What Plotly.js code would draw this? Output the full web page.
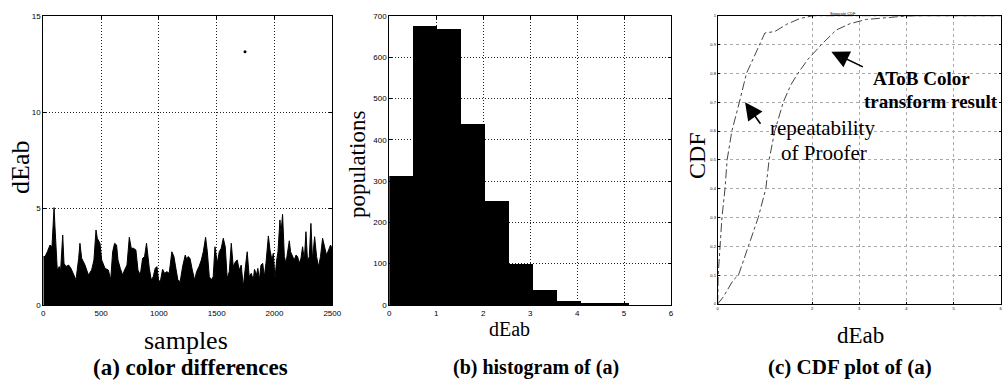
<!DOCTYPE html>
<html>
<head>
<meta charset="utf-8">
<script src="https://cdn.plot.ly/plotly-3.0.1.min.js"></script>
<style>html,body{margin:0;padding:0;background:#fff;}#chart{width:1007px;height:389px;}</style>
</head>
<body>
<div id="chart"></div>
<script>
// (a) color differences: sample index vs dEab (upper envelope)
const samplesA = [0,15,35,58,75,93,101,121,138,150,168,179,196,219,239,260,283,306,317,332,361,390,418,438,456,467,490,505,534,563,583,600,617,634,646,666,686,703,724,744,761,781,801,819,839,859,876,893,905,917,934,951,968,983,997,1012,1032,1049,1069,1089,1112,1130,1147,1164,1184,1205,1228,1242,1252,1269,1289,1309,1326,1347,1367,1384,1404,1419,1436,1453,1470,1485,1505,1522,1539,1557,1574,1591,1609,1626,1643,1663,1678,1695,1712,1730,1750,1764,1781,1799,1816,1827,1844,1856,1869,1883,1898,1912,1926,1947,1961,1978,1990,2004,2019,2030,2047,2056,2070,2085,2099,2117,2128,2139,2157,2171,2186,2200,2214,2229,2243,2258,2272,2286,2301,2315,2329,2347,2364,2381,2398,2416,2433,2450,2468,2485,2500];
const dEabA = [2.51,2.51,2.76,3.11,3.02,5.05,4.06,1.81,1.99,1.81,3.63,2.16,1.99,2.07,1.90,1.56,1.30,2.42,3.20,2.42,2.07,1.56,1.81,2.33,3.89,3.46,3.20,2.33,1.90,1.81,1.30,2.76,3.20,3.11,2.33,1.90,1.56,1.81,2.07,3.51,2.94,2.94,2.85,1.81,1.56,2.42,2.51,3.20,2.51,1.90,1.30,1.47,1.90,1.99,1.30,1.21,1.85,1.64,1.73,1.64,2.76,2.51,1.90,1.30,1.21,1.99,2.59,2.33,2.51,2.42,1.81,1.30,1.73,1.99,2.33,2.76,3.51,2.76,1.47,1.30,1.47,3.02,2.16,2.76,2.94,3.46,3.02,1.38,1.73,3.20,1.99,2.25,2.33,1.81,2.07,0.95,2.07,2.76,1.47,1.64,1.30,1.85,1.56,1.90,1.30,2.07,2.16,1.47,2.16,3.58,2.85,2.33,2.68,1.38,2.33,2.76,4.41,3.72,4.70,2.51,2.16,2.85,3.33,2.76,2.51,2.33,2.59,2.51,2.16,2.42,3.02,2.33,3.80,2.25,2.51,4.23,2.33,3.54,2.51,1.99,2.51,3.46,3.02,2.59,2.85,3.11,2.90];
const outlierSample = [1745];
const outlierDEab = [13.13];
const ticksA_x = [0,500,1000,1500,2000,2500];
const ticksA_y = [0,5,10,15];

// (b) histogram of (a)
const binCenters = [0.255,0.765,1.275,1.785,2.295,2.805,3.315,3.825,4.335,4.845,5.355,5.865];
const populations = [313,675,669,437,251,99,36,10,6,4,1,1];
const binWidth = 0.51;
const ticksB_x = [0,1,2,3,4,5,6];
const ticksB_y = [0,100,200,300,400,500,600,700];

// (c) CDF plot of (a)
const prooferX = [0,0.01,0.05,0.09,0.155,0.20,0.25,0.30,0.46,0.53,0.61,0.75,0.88,1.0,1.21,1.46,1.74,2.02,6];
const prooferY = [0,0.1,0.2,0.3,0.4,0.5,0.55,0.6,0.7,0.75,0.8,0.85,0.9,0.94,0.945,0.97,0.99,1.0,1.0];
const atobX = [0,0.12,0.33,0.44,0.65,0.86,1.02,1.09,1.21,1.39,1.55,1.70,1.92,2.2,2.51,2.8,3.15,3.57,4.0,4.3,6];
const atobY = [0,0.025,0.083,0.1,0.2,0.3,0.4,0.5,0.6,0.7,0.76,0.8,0.85,0.9,0.95,0.972,0.987,0.994,0.999,1,1];
const ticksC_x = [0,2,3,4,5,6];
const ticksC_y = [0,0.1,0.2,0.3,0.4,0.5,0.6,0.7,0.8,0.9,1];

const W = 1007, H = 389;
const px = v => v / W;
const py = v => 1 - v / H;
const serif = 'Liberation Serif, Times New Roman, serif';
const narrow = 'Liberation Sans Narrow, Arial Narrow, Liberation Sans, sans-serif';

const traces = [
  {x: samplesA, y: dEabA, type: 'scatter', mode: 'lines', fill: 'tozeroy',
   line: {color: '#000', width: 1}, fillcolor: '#000', xaxis: 'x', yaxis: 'y', hoverinfo: 'skip'},
  {x: outlierSample, y: outlierDEab, type: 'scatter', mode: 'markers',
   marker: {color: '#000', size: 3}, xaxis: 'x', yaxis: 'y'},
  {x: binCenters, y: populations, type: 'bar', width: binWidth,
   marker: {color: '#000', line: {width: 0}}, xaxis: 'x2', yaxis: 'y2'},
  {x: prooferX, y: prooferY, type: 'scatter', mode: 'lines',
   line: {color: '#444', width: 1, dash: 'dashdot'}, xaxis: 'x3', yaxis: 'y3'},
  {x: atobX, y: atobY, type: 'scatter', mode: 'lines',
   line: {color: '#444', width: 1, dash: 'dashdot'}, xaxis: 'x3', yaxis: 'y3'}
];

function ax(domain, range, tickvals, fsize, grid) {
  return {
    domain: domain, range: range, tickvals: tickvals, ticks: 'inside', ticklen: 3,
    tickcolor: '#000', showline: true, mirror: 'ticks', linecolor: '#000', linewidth: 1,
    showgrid: true, gridcolor: grid.color, griddash: grid.dash, gridwidth: 1,
    zeroline: false, tickfont: {family: narrow, size: fsize, color: '#000'}, fixedrange: true
  };
}
const gridAB = {color: '#222', dash: '1px,2px'};
const gridC = {color: '#aaa', dash: '3px,3px'};
const yDom = [py(305), py(15.7)];

const ann = [];
function txt(t, x, y, size, bold, angle) {
  ann.push({text: bold ? '<b>' + t + '</b>' : t, x: px(x), y: py(y), xref: 'paper', yref: 'paper',
    showarrow: false, textangle: angle || 0, xanchor: 'center', yanchor: 'middle',
    font: {family: serif, size: size, color: '#000'}});
}
txt('dEab', 20, 168, 26, false, -90);
txt('samples', 186, 340, 26, false);
txt('(a) color differences', 190, 367, 23, true);
txt('populations', 357, 165, 23, false, -90);
txt('dEab', 510, 329, 20, false);
txt('(b) histogram of (a)', 536, 367, 20, true);
txt('CDF', 697, 156, 24, false, -90);
txt('dEab', 860, 335, 23, false);
txt('(c) CDF plot of (a)', 850, 367, 21, true);
txt('AToB Color', 921, 78, 19, true);
txt('transform result', 931, 101, 19, true);
txt('repeatability', 822, 128, 21, false);
txt('of Proofer', 824, 153, 21, false);
ann.push({text: 'Separate CDF', x: px(858), y: py(9), xref: 'paper', yref: 'paper', showarrow: false,
  font: {family: narrow, size: 4, color: '#000'}});
ann.push({x: 2.41, y: 0.875, ax: 3.11, ay: 0.82, xref: 'x3', yref: 'y3', axref: 'x3', ayref: 'y3',
  text: '', showarrow: true, arrowhead: 2, arrowsize: 2.2, arrowwidth: 1.6, arrowcolor: '#000'});
ann.push({x: 0.58, y: 0.70, ax: 0.93, ay: 0.62, xref: 'x3', yref: 'y3', axref: 'x3', ayref: 'y3',
  text: '', showarrow: true, arrowhead: 2, arrowsize: 2.2, arrowwidth: 1.6, arrowcolor: '#000'});

const layout = {
  width: W, height: H, margin: {l: 0, r: 0, t: 0, b: 0}, showlegend: false,
  paper_bgcolor: '#fff', plot_bgcolor: '#fff', bargap: 0,
  xaxis: ax([px(43.3), px(332.3)], [0, 2500], ticksA_x, 8, gridAB),
  yaxis: ax(yDom, [0, 15], ticksA_y, 8, gridAB),
  xaxis2: ax([px(389.3), px(671)], [0, 6], ticksB_x, 8, gridAB),
  yaxis2: ax(yDom, [0, 700], ticksB_y, 8, gridAB),
  xaxis3: ax([px(717.7), px(1000.7)], [0, 6], ticksC_x, 4, gridC),
  yaxis3: ax([py(304), py(15.7)], [0, 1], ticksC_y, 4, gridC),
  annotations: ann
};
layout.xaxis2.anchor = 'y2'; layout.yaxis2.anchor = 'x2';
layout.xaxis3.anchor = 'y3'; layout.yaxis3.anchor = 'x3';
layout.xaxis3.ticklen = 2; layout.yaxis3.ticklen = 2;

Plotly.newPlot('chart', traces, layout, {displayModeBar: false, staticPlot: true});
</script>
</body>
</html>
